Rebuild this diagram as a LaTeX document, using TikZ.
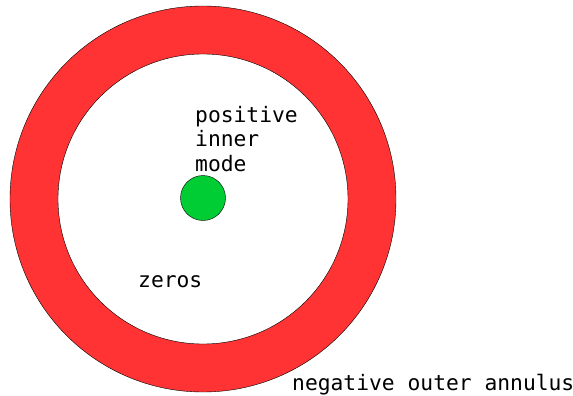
\documentclass[tikz,border=0pt]{standalone}
\usepackage{fontspec}
\setmonofont{DejaVu Sans Mono}
\definecolor{annred}{HTML}{FF3333}
\definecolor{modegreen}{HTML}{00CC33}
\tikzset{lbl/.style={anchor=base west, inner sep=0pt, font=\fontsize{21.3}{24.5}\selectfont\ttfamily, align=left}}
\begin{document}
\begin{tikzpicture}[x=1pt, y=-1pt]
    \useasboundingbox (0,0) rectangle (573,396);
    \fill[annred, draw = black, even odd rule] (203,199) circle(193) (203,199) circle(145);
    \fill[modegreen, draw = black] (203,198) circle(22.5);
    
    \node[lbl] (inner) at (195,171) {positive\\inner\\mode};
    \node[lbl] (zeros) at (138,287) {zeros};
    \node[lbl] (outer) at (292,390) {negative outer annulus};
\end{tikzpicture}
\end{document}
